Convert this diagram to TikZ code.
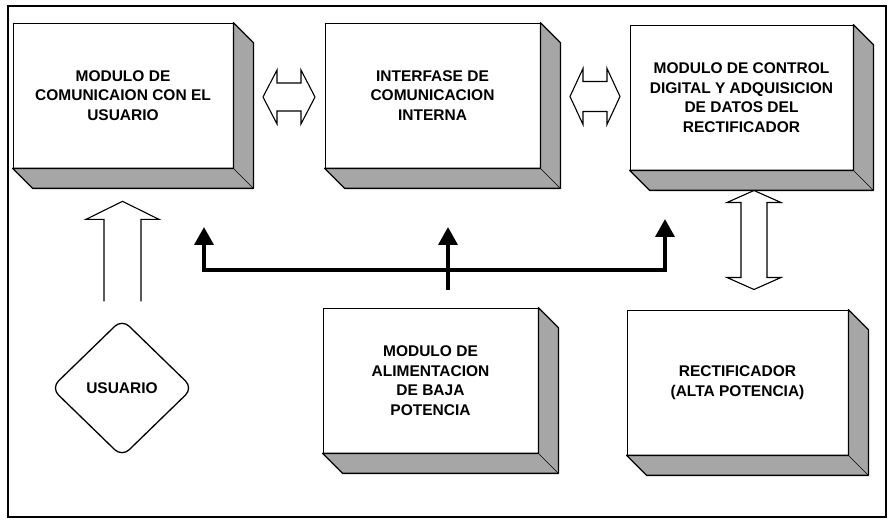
\documentclass[tikz,border=0pt]{standalone}
\usepackage{fontspec}
\setmainfont{Liberation Sans}
\usetikzlibrary{positioning}
\usetikzlibrary{arrows.meta}
\usetikzlibrary{shapes.geometric}
\usetikzlibrary{calc}

\tikzset{
  txt/.style={font=\fontsize{15.5}{19.5}\selectfont\bfseries},
  modbox/.style={draw, line width=0.8pt, fill=white, minimum height=145pt, inner sep=0pt, align=center, txt},
  sidefill/.style={fill=black!35, draw, line width=1.3pt, line join=round},
  bus/.style={line width=3.6pt, -{Triangle[length=18pt,width=19pt]}},
  hollow/.style={draw, line width=1.1pt, line join=miter, fill=white},
}

\begin{document}
\begin{tikzpicture}[x=1pt,y=-1pt]

        \useasboundingbox (0,0) rectangle (892,526);
        \draw[line width=2pt] (8,6) rectangle (886,517);

        \node[modbox, minimum width=220pt] (usr) at (123,95.5) {MODULO DE\\COMUNICAION CON EL\\USUARIO};
        \node[modbox, minimum width=215pt] (int) at (432.5,95.5) {INTERFASE DE\\COMUNICACION\\INTERNA};
        \node[modbox, minimum width=223pt] (ctl) at (741.5,97.5) {MODULO DE CONTROL\\DIGITAL Y ADQUISICION\\DE DATOS DEL\\RECTIFICADOR};
        \node[modbox, minimum width=215pt] (ali) at (430.5,380.5) {MODULO DE\\ALIMENTACION\\DE BAJA\\POTENCIA};
        \node[modbox, minimum width=221pt] (rec) at (737.5,382.5) {RECTIFICADOR\\(ALTA POTENCIA)};

        \foreach \n in {usr,int,ctl,ali,rec}{
          \filldraw[sidefill] (\n.north east) -- ++(20,20) -- ($(\n.south east)+(20,20)$)
            -- ($(\n.south west)+(20,20)$) -- (\n.south west) -- (\n.south east) -- cycle;
          \draw[line width=0.5pt] (\n.south east) -- ++(20,20);
        }

        \node[draw, diamond, line width=1.3pt, rounded corners=10pt, minimum width=142pt,
          minimum height=138pt, inner sep=0pt, txt] (usuario) at (122,388) {USUARIO};

        \draw[hollow] ($(usuario.north)+(0.5,-17)$) ++(-18.5,0) -- ++(0,-82) -- ++(-18,0)
          -- ++(36.5,-18) -- ++(36.5,18) -- ++(-18,0) -- ++(0,82);

        \coordinate (a12) at ($(usr.east)!0.5!(int.west)+(10,1.5)$);
        \draw[hollow] (a12) ++(-26,0) -- ++(14,-27) -- ++(0,13) -- ++(24,0) -- ++(0,-13)
          -- ++(14,27) -- ++(-14,27) -- ++(0,-13) -- ++(-24,0) -- ++(0,13) -- cycle;

        \coordinate (a23) at ($(int.east)!0.5!(ctl.west)+(10,0)$);
        \draw[hollow] (a23) ++(-25,0) -- ++(13,-28) -- ++(0,13) -- ++(24,0) -- ++(0,-13)
          -- ++(13,28) -- ++(-13,28) -- ++(0,-13) -- ++(-24,0) -- ++(0,13) -- cycle;

        \coordinate (a35) at ($(ctl.south)!0.5!(rec.north)+(14.5,0)$);
        \draw[hollow] (a35) ++(0,-49.5) -- ++(27,12) -- ++(-14,0) -- ++(0,75) -- ++(14,0)
          -- ++(-27,12) -- ++(-27,-12) -- ++(14,0) -- ++(0,-75) -- ++(-14,0) -- cycle;

        \coordinate (b1) at (204,270);
        \coordinate (b2) at (665,270);
        \coordinate (b0) at (448,290);
        \coordinate (t1) at (204,227);
        \coordinate (t2) at (448,227);
        \coordinate (t3) at (665,219);
        \draw[bus] (b2) -- (b1) -- (t1);
        \draw[bus] (b1) -- (b2) -- (t3);
        \draw[bus] (b0) -- (t2);
\end{tikzpicture}
\end{document}
